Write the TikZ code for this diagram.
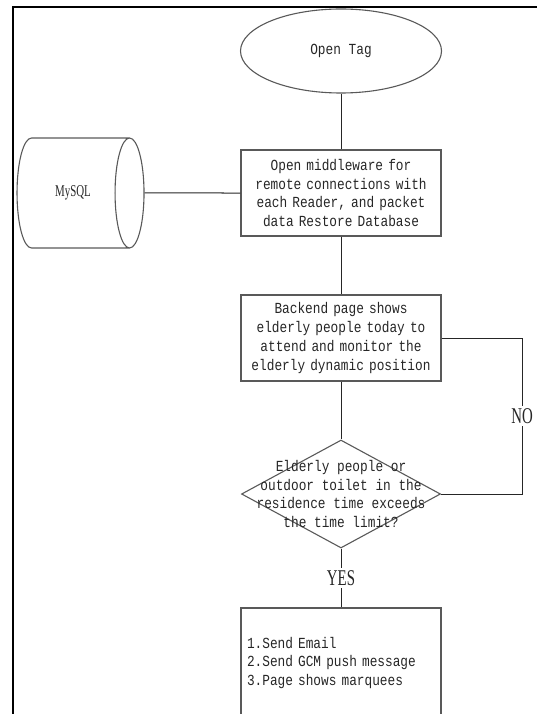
\documentclass[tikz,border=0pt]{standalone}
\usepackage{fontspec}
\usetikzlibrary{shapes.geometric}
\newfontfamily\simmono[FakeStretch=0.83]{Liberation Mono}
\newfontfamily\simserif[FakeStretch=0.66]{Liberation Serif}
\begin{document}
\begin{tikzpicture}[x=1pt, y=-1pt,
    every node/.style={text=black!85},
    proc/.style={draw=black!65, line width=1.1pt, rectangle, minimum width=200pt,
      minimum height=86pt, text width=188pt, inner sep=0pt, align=center,
      font=\simmono\fontsize{15.4}{18.8}\selectfont},
    term/.style={draw=black!65, line width=1.1pt, ellipse, minimum width=201pt,
      minimum height=84pt, inner sep=0pt, font=\simmono\fontsize{15.4}{18.8}\selectfont},
    decide/.style={draw=black!65, line width=1.1pt, diamond, minimum width=199pt,
      minimum height=108pt, inner sep=0pt},
    db/.style={draw=black!65, line width=1.1pt, cylinder, shape aspect=2,
      minimum width=110pt, minimum height=127pt, inner sep=0pt,
      font=\simserif\fontsize{16.5}{18}\selectfont},
    link/.style={draw=black!85, line width=1pt},
    tag/.style={fill=white, inner sep=2pt, font=\simserif\fontsize{22.5}{24}\selectfont}]
    \useasboundingbox (0,0) rectangle (537,714);

    % page frame
    \draw[line width=2.6pt, line cap=rect] (537,7) -- (13,7) -- (13,720);

    \node[term] (open) at (341,51) {Open Tag};
    \node[proc] (mid) at (341,193) {Open middleware for remote connections with each Reader, and packet data Restore Database};
    \node[db] (sql) at (73,193) {MySQL};
    \node[proc] (back) at (341,338) {Backend page shows elderly people today to attend and monitor the elderly dynamic position};
    \node[decide, label={[font=\simmono\fontsize{15.4}{18.8}\selectfont, align=center]center:Elderly people or\\outdoor toilet in the\\residence time exceeds\\the time limit?}] (check) at (341,494) {};
    \node[proc, minimum height=110pt, align=left] (act) at (341,663) {1.Send Email\\2.Send GCM push message\\3.Page shows marquees};
    \coordinate (noturn) at (522,338);

    \draw[link] (open) -- (mid);
    \draw[link] (sql.east) -- (mid.west);
    \draw[link] (mid) -- (back);
    \draw[link] (back) -- (check);
    \draw[link] (back.east) -- (noturn) |- node[tag, pos=0.25] {NO} (check.east);
    \draw[link] (check.south) -- node[tag] {YES} (act.north);

  \end{tikzpicture}
\end{document}
